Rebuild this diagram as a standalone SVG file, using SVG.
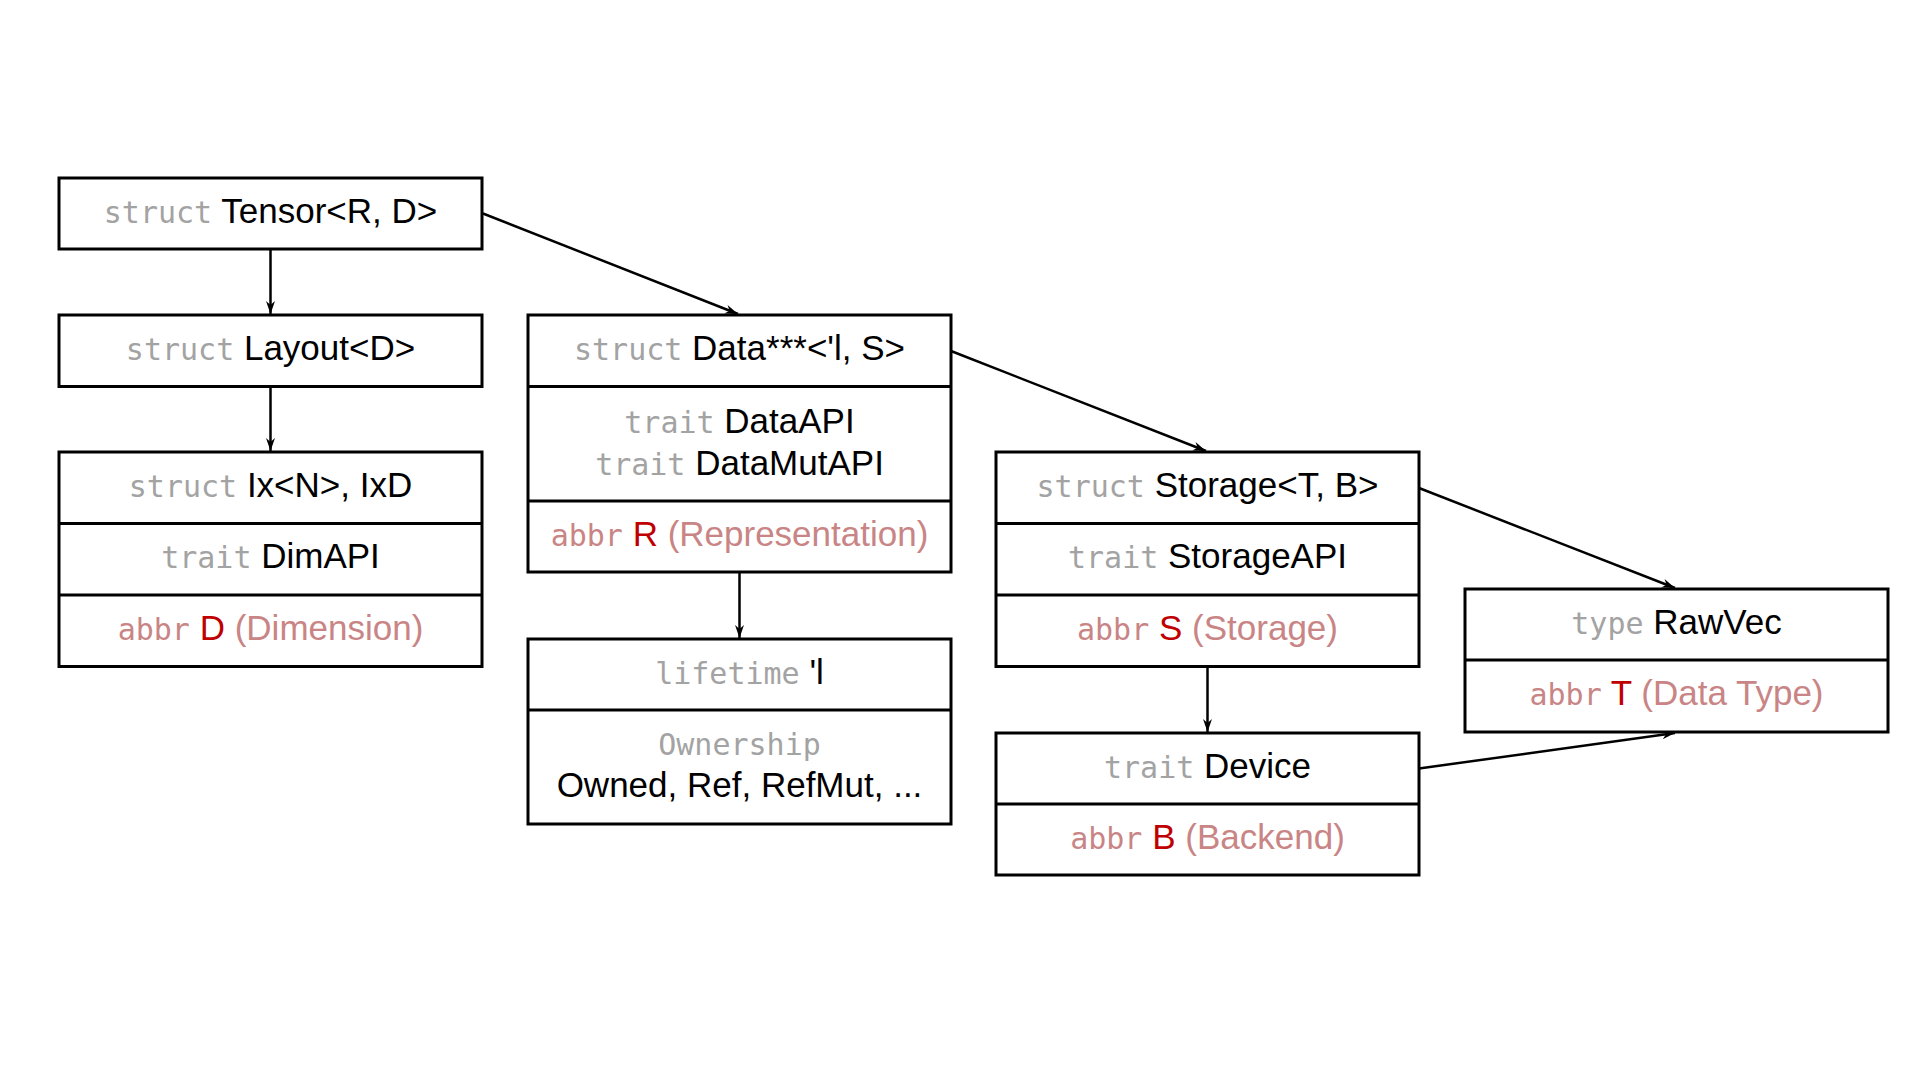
<svg xmlns="http://www.w3.org/2000/svg" width="1920" height="1080" viewBox="0 0 1920 1080">
<style>
.box{fill:#fff;stroke:#000;stroke-width:3}
.div{stroke:#000;stroke-width:3}
text{font-family:"Liberation Sans",Arial,sans-serif;font-size:35px;fill:#000;text-anchor:middle}
.kw{font-family:"DejaVu Sans Mono","Liberation Mono",monospace;font-size:30px;fill:#a3a3a3}
.ab{font-family:"DejaVu Sans Mono","Liberation Mono",monospace;font-size:30px;fill:#c98585}
.pk{fill:#c98585}
.rd{fill:#c00000}
.conn{fill:none;stroke:#000;stroke-width:2.5;marker-end:url(#arr)}
</style>
<defs>
<marker id="arr" markerUnits="userSpaceOnUse" markerWidth="14" markerHeight="10" refX="13" refY="5" orient="auto" viewBox="0 0 14 10">
<path d="M0,0.5 L13,5 L0,9.5 L4,5 z" fill="#000"/>
</marker>
</defs>
<rect width="1920" height="1080" fill="#fff"/>

<g id="connectors">
<line class="conn" x1="270.5" y1="249" x2="270.5" y2="314"/>
<line class="conn" x1="270.5" y1="386.5" x2="270.5" y2="451"/>
<line class="conn" x1="483" y1="213.5" x2="738" y2="314"/>
<line class="conn" x1="739.5" y1="572" x2="739.5" y2="638"/>
<line class="conn" x1="951" y1="351" x2="1206" y2="451"/>
<line class="conn" x1="1207.5" y1="666.5" x2="1207.5" y2="732"/>
<line class="conn" x1="1419" y1="488" x2="1675" y2="588"/>
<line class="conn" x1="1419" y1="768.5" x2="1675" y2="733"/>
</g>

<g id="tensor">
<rect class="box" x="59" y="178" width="423" height="71"/>
<text x="270.5" y="222.5"><tspan class="kw">struct</tspan> Tensor&lt;R, D&gt;</text>
</g>

<g id="layout">
<rect class="box" x="59" y="315" width="423" height="71.5"/>
<text x="270.5" y="359.5"><tspan class="kw">struct</tspan> Layout&lt;D&gt;</text>
</g>

<g id="ix">
<rect class="box" x="59" y="452" width="423" height="214.5"/>
<line class="div" x1="59" y1="523.5" x2="482" y2="523.5"/>
<line class="div" x1="59" y1="595" x2="482" y2="595"/>
<text x="270.5" y="496.5"><tspan class="kw">struct</tspan> Ix&lt;N&gt;, IxD</text>
<text x="270.5" y="568"><tspan class="kw">trait</tspan> DimAPI</text>
<text x="270.5" y="639.5"><tspan class="ab">abbr</tspan> <tspan class="rd">D</tspan> <tspan class="pk">(Dimension)</tspan></text>
</g>

<g id="data">
<rect class="box" x="528" y="315" width="423" height="257"/>
<line class="div" x1="528" y1="386.5" x2="951" y2="386.5"/>
<line class="div" x1="528" y1="501" x2="951" y2="501"/>
<text x="739.5" y="359.5"><tspan class="kw">struct</tspan> Data***&lt;'l, S&gt;</text>
<text x="739.5" y="433"><tspan class="kw">trait</tspan> DataAPI</text>
<text x="739.5" y="475"><tspan class="kw">trait</tspan> DataMutAPI</text>
<text x="739.5" y="545.5"><tspan class="ab">abbr</tspan> <tspan class="rd">R</tspan> <tspan class="pk">(Representation)</tspan></text>
</g>

<g id="lifetime">
<rect class="box" x="528" y="639" width="423" height="185"/>
<line class="div" x1="528" y1="710" x2="951" y2="710"/>
<text x="739.5" y="683.5"><tspan class="kw">lifetime</tspan> 'l</text>
<text x="739.5" y="755"><tspan class="kw">Ownership</tspan></text>
<text x="739.5" y="797">Owned, Ref, RefMut, ...</text>
</g>

<g id="storage">
<rect class="box" x="996" y="452" width="423" height="214.5"/>
<line class="div" x1="996" y1="523.5" x2="1419" y2="523.5"/>
<line class="div" x1="996" y1="595" x2="1419" y2="595"/>
<text x="1207.5" y="496.5"><tspan class="kw">struct</tspan> Storage&lt;T, B&gt;</text>
<text x="1207.5" y="568"><tspan class="kw">trait</tspan> StorageAPI</text>
<text x="1207.5" y="639.5"><tspan class="ab">abbr</tspan> <tspan class="rd">S</tspan> <tspan class="pk">(Storage)</tspan></text>
</g>

<g id="device">
<rect class="box" x="996" y="733" width="423" height="142"/>
<line class="div" x1="996" y1="804" x2="1419" y2="804"/>
<text x="1207.5" y="777.5"><tspan class="kw">trait</tspan> Device</text>
<text x="1207.5" y="848.5"><tspan class="ab">abbr</tspan> <tspan class="rd">B</tspan> <tspan class="pk">(Backend)</tspan></text>
</g>

<g id="rawvec">
<rect class="box" x="1465" y="589" width="423" height="143"/>
<line class="div" x1="1465" y1="660" x2="1888" y2="660"/>
<text x="1676.5" y="633.5"><tspan class="kw">type</tspan> RawVec</text>
<text x="1676.5" y="704.5"><tspan class="ab">abbr</tspan> <tspan class="rd">T</tspan> <tspan class="pk">(Data Type)</tspan></text>
</g>
</svg>
